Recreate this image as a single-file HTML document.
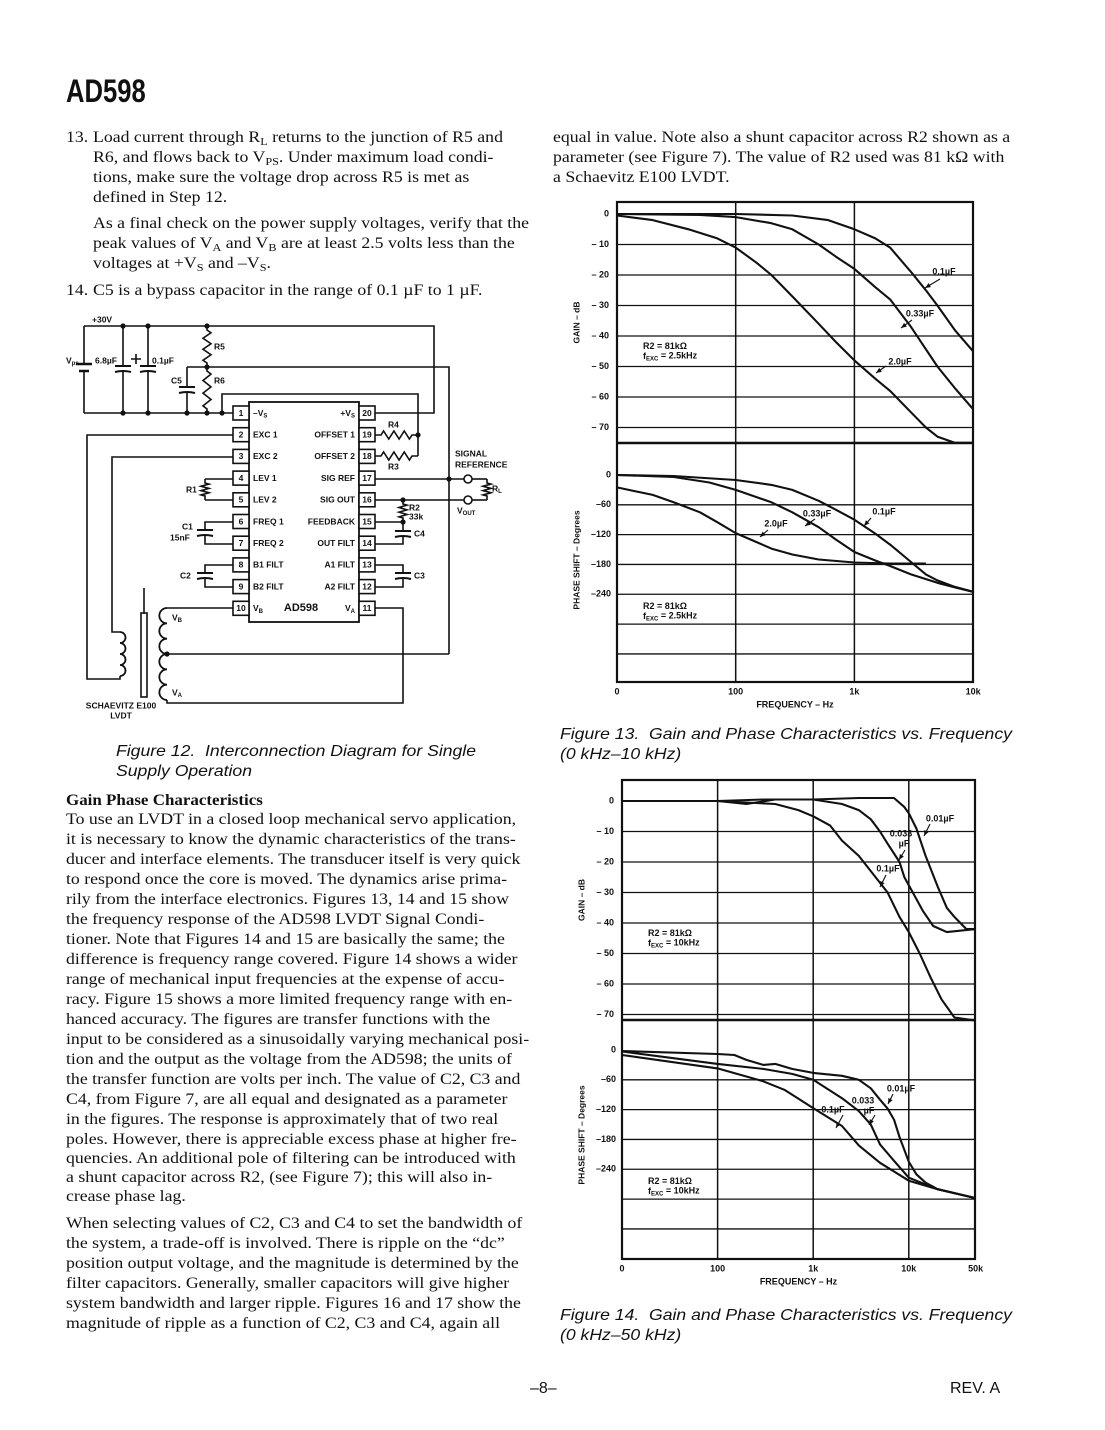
<!DOCTYPE html>
<html><head><meta charset="utf-8">
<style>
html,body{margin:0;padding:0;background:#fff;}
#page{position:relative;width:1105px;height:1430px;overflow:hidden;background:#fff;color:#111;}
.t{position:absolute;white-space:nowrap;font-family:"Liberation Serif",serif;font-size:16px;line-height:20px;transform:scaleX(1.11);transform-origin:left center;}
.t sub{font-size:11px;vertical-align:-3px;line-height:0;}
.cap{position:absolute;white-space:nowrap;font-family:"Liberation Sans",sans-serif;font-style:italic;font-size:16px;line-height:20px;transform:scaleX(1.1);transform-origin:left center;}
svg text{font-family:"Liberation Sans",sans-serif;font-weight:bold;fill:#111;}
</style></head>
<body>
<div id="page">
<div style="position:absolute;left:66px;top:74px;font-family:'Liberation Sans Narrow','Liberation Sans',sans-serif;font-weight:bold;font-size:32px;line-height:34px;transform:scaleX(0.8);transform-origin:left;">AD598</div>

<div>
<div class="t" style="left:66px;top:128px">13.</div>
<div class="t" style="left:93px;top:128px">Load current through R<sub>L</sub> returns to the junction of R5 and</div>
<div class="t" style="left:93px;top:148px">R6, and flows back to V<sub>PS</sub>. Under maximum load condi-</div>
<div class="t" style="left:93px;top:168px">tions, make sure the voltage drop across R5 is met as</div>
<div class="t" style="left:93px;top:188px">defined in Step 12.</div>
<div class="t" style="left:93px;top:214px">As a final check on the power supply voltages, verify that the</div>
<div class="t" style="left:93px;top:234px">peak values of V<sub>A</sub> and V<sub>B</sub> are at least 2.5 volts less than the</div>
<div class="t" style="left:93px;top:254px">voltages at +V<sub>S</sub> and –V<sub>S</sub>.</div>
</div>
<div>
<div class="t" style="left:66px;top:281px">14.</div>
<div class="t" style="left:93px;top:281px">C5 is a bypass capacitor in the range of 0.1 µF to 1 µF.</div>
</div>

<div class="cap" style="left:116px;top:742px">Figure 12.&nbsp; Interconnection Diagram for Single<br>Supply Operation</div>

<div class="t" style="left:66px;top:791px;font-weight:bold;transform:scaleX(1.06)">Gain Phase Characteristics</div>
<div>
<div class="t" style="left:66px;top:810px">To use an LVDT in a closed loop mechanical servo application,</div>
<div class="t" style="left:66px;top:830px">it is necessary to know the dynamic characteristics of the trans-</div>
<div class="t" style="left:66px;top:850px">ducer and interface elements. The transducer itself is very quick</div>
<div class="t" style="left:66px;top:870px">to respond once the core is moved. The dynamics arise prima-</div>
<div class="t" style="left:66px;top:890px">rily from the interface electronics. Figures 13, 14 and 15 show</div>
<div class="t" style="left:66px;top:910px">the frequency response of the AD598 LVDT Signal Condi-</div>
<div class="t" style="left:66px;top:930px">tioner. Note that Figures 14 and 15 are basically the same; the</div>
<div class="t" style="left:66px;top:950px">difference is frequency range covered. Figure 14 shows a wider</div>
<div class="t" style="left:66px;top:970px">range of mechanical input frequencies at the expense of accu-</div>
<div class="t" style="left:66px;top:990px">racy. Figure 15 shows a more limited frequency range with en-</div>
<div class="t" style="left:66px;top:1010px">hanced accuracy. The figures are transfer functions with the</div>
<div class="t" style="left:66px;top:1030px">input to be considered as a sinusoidally varying mechanical posi-</div>
<div class="t" style="left:66px;top:1050px">tion and the output as the voltage from the AD598; the units of</div>
<div class="t" style="left:66px;top:1070px">the transfer function are volts per inch. The value of C2, C3 and</div>
<div class="t" style="left:66px;top:1090px">C4, from Figure 7, are all equal and designated as a parameter</div>
<div class="t" style="left:66px;top:1110px">in the figures. The response is approximately that of two real</div>
<div class="t" style="left:66px;top:1130px">poles. However, there is appreciable excess phase at higher fre-</div>
<div class="t" style="left:66px;top:1149px">quencies. An additional pole of filtering can be introduced with</div>
<div class="t" style="left:66px;top:1168px">a shunt capacitor across R2, (see Figure 7); this will also in-</div>
<div class="t" style="left:66px;top:1187px">crease phase lag.</div>
</div>
<div>
<div class="t" style="left:66px;top:1214px">When selecting values of C2, C3 and C4 to set the bandwidth of</div>
<div class="t" style="left:66px;top:1234px">the system, a trade-off is involved. There is ripple on the “dc”</div>
<div class="t" style="left:66px;top:1254px">position output voltage, and the magnitude is determined by the</div>
<div class="t" style="left:66px;top:1274px">filter capacitors. Generally, smaller capacitors will give higher</div>
<div class="t" style="left:66px;top:1294px">system bandwidth and larger ripple. Figures 16 and 17 show the</div>
<div class="t" style="left:66px;top:1314px">magnitude of ripple as a function of C2, C3 and C4, again all</div>
</div>
<div>
<div class="t" style="left:553px;top:128px">equal in value. Note also a shunt capacitor across R2 shown as a</div>
<div class="t" style="left:553px;top:148px">parameter (see Figure 7). The value of R2 used was 81 kΩ with</div>
<div class="t" style="left:553px;top:168px">a Schaevitz E100 LVDT.</div>
</div>
<div class="cap" style="left:560px;top:725px">Figure 13.&nbsp; Gain and Phase Characteristics vs. Frequency<br>(0 kHz–10 kHz)</div>
<div class="cap" style="left:560px;top:1306px">Figure 14.&nbsp; Gain and Phase Characteristics vs. Frequency<br>(0 kHz–50 kHz)</div>

<div style="position:absolute;left:530px;top:1380px;font-family:'Liberation Sans',sans-serif;font-size:16px;">–8–</div>
<div style="position:absolute;left:950px;top:1380px;font-family:'Liberation Sans',sans-serif;font-size:16px;">REV. A</div>

<svg id="svg" width="1105" height="1430" style="position:absolute;left:0;top:0"></svg>
</div>

<script>
// ===== Figure 13 data (0 kHz – 10 kHz) =====
const f13XTicks = [10, 100, 1000, 10000];
const f13XTickLabels = ["0", "100", "1k", "10k"];
const f13GainTicks = [0, -10, -20, -30, -40, -50, -60, -70];
const f13GainTickLabels = ["0", "– 10", "– 20", "– 30", "– 40", "– 50", "– 60", "– 70"];
const f13PhaseTicks = [0, -60, -120, -180, -240];
const f13PhaseTickLabels = ["0", "–60", "–120", "–180", "–240"];
const f13Gain01Freq = [10, 100, 300, 600, 1000, 1500, 2000, 3000, 4000, 5000, 7000, 10000];
const f13Gain01 = [0, 0, -0.5, -2, -5, -8, -11, -19, -25, -30, -38, -45];
const f13Gain033Freq = [10, 50, 100, 200, 300, 500, 700, 1000, 1500, 2000, 3000, 5000, 7000, 10000];
const f13Gain033 = [0, -0.3, -1, -3, -5, -10, -14, -18, -24, -28, -37, -50, -57, -64];
const f13Gain2Freq = [10, 20, 40, 70, 100, 150, 200, 300, 500, 700, 1000, 1500, 2000, 3000, 4000, 5000, 7000, 10000];
const f13Gain2 = [-0.5, -2, -5, -8, -11, -16, -20, -27, -36, -42, -48, -54, -58, -65, -70, -73, -75, -75];
const f13Phase01Freq = [10, 30, 100, 200, 300, 500, 700, 1000, 1500, 2000, 3000, 4000, 5000, 7000, 10000];
const f13Phase01 = [0, -2, -10, -20, -30, -52, -70, -90, -118, -140, -175, -200, -212, -225, -235];
const f13Phase033Freq = [10, 30, 60, 100, 200, 300, 500, 700, 1000, 1500, 2000, 3000, 5000, 7000, 10000];
const f13Phase033 = [0, -4, -15, -30, -55, -75, -105, -130, -155, -172, -183, -200, -217, -226, -235];
const f13Phase2Freq = [10, 20, 30, 50, 70, 100, 150, 200, 300, 500, 1000, 2000, 4000];
const f13Phase2 = [-25, -40, -55, -75, -95, -117, -135, -148, -160, -170, -176, -178, -178];

// ===== Figure 14 data (0 kHz – 50 kHz) =====
const f14XTicks = [10, 100, 1000, 10000, 50000];
const f14XTickLabels = ["0", "100", "1k", "10k", "50k"];
const f14GainTicks = [0, -10, -20, -30, -40, -50, -60, -70];
const f14GainTickLabels = ["0", "– 10", "– 20", "– 30", "– 40", "– 50", "– 60", "– 70"];
const f14PhaseTicks = [0, -60, -120, -180, -240];
const f14PhaseTickLabels = ["0", "–60", "–120", "–180", "–240"];
const f14Gain001Freq = [10, 100, 300, 1000, 3000, 7000, 9000, 10000, 12000, 15000, 20000, 25000, 30000, 40000, 50000];
const f14Gain001 = [0, 0, 0.5, 0.5, 1, 1, -2, -4, -9, -18, -28, -35, -38, -42, -42];
const f14Gain0033Freq = [10, 100, 200, 400, 1000, 2000, 3000, 4000, 5000, 6000, 8000, 9000, 11000, 14000, 18000, 25000, 50000];
const f14Gain0033 = [0, 0, -1, 0.5, 0.5, -1, -3, -6, -10, -14, -20, -25, -30, -36, -41, -43, -42];
const f14Gain01Freq = [10, 100, 200, 400, 700, 1000, 1500, 2000, 3000, 4000, 6000, 8000, 10000, 13000, 17000, 22000, 30000, 50000];
const f14Gain01 = [0, 0, -0.5, -1, -3, -5, -8, -13, -18, -23, -30, -38, -43, -50, -58, -65, -71, -72];
const f14Phase001Freq = [10, 100, 150, 200, 300, 400, 600, 1000, 2000, 3000, 4000, 5000, 6000, 7000, 8000, 10000, 12000, 15000, 20000, 50000];
const f14Phase001 = [-2, -8, -10, -20, -30, -28, -38, -46, -52, -60, -77, -100, -118, -140, -175, -225, -250, -267, -280, -298];
const f14Phase0033Freq = [10, 100, 300, 600, 1000, 2000, 3000, 4000, 5000, 7000, 10000, 20000, 50000];
const f14Phase0033 = [-3, -28, -38, -48, -60, -97, -123, -150, -190, -223, -257, -280, -298];
const f14Phase01Freq = [10, 100, 300, 500, 1000, 2000, 3000, 5000, 10000, 20000, 50000];
const f14Phase01 = [-10, -37, -63, -80, -117, -153, -192, -227, -263, -280, -298];

const NS = "http://www.w3.org/2000/svg";
const svg = document.getElementById("svg");
function mk(tag, attrs, parent) {
  const e = document.createElementNS(NS, tag);
  for (const k in attrs) e.setAttribute(k, attrs[k]);
  (parent || svg).appendChild(e);
  return e;
}
function txt(x, y, s, size, anchor, parent) {
  const e = mk("text", {x: x, y: y, "font-size": size, "text-anchor": anchor || "start", "dominant-baseline": "middle"}, parent);
  e.textContent = s;
  return e;
}

// ================= CHARTS =================
function drawChart(c) {
  const g = mk("g", {});
  
  
  const xOf = f => c.x0 + (Math.log10(f) - 1) * c.dec;
  const gY = d => c.g0 - d * 3.05;
  const pY = d => c.p0 - d * 0.497;
  c.gainTicks.forEach((v, i) => {
    if (v !== 0) {
      const l = mk("line", {x1: c.x0, x2: c.x1, y1: gY(v), y2: gY(v), stroke: "#111", "stroke-width": 1.3}, g);
      
      
    }
    const t = txt(c.x0 - 8, gY(v), c.gainLabels[i], 9, "end", g);
    
    
  });
  c.phaseTicks.forEach((v, i) => {
    if (v !== 0) {
      const l = mk("line", {x1: c.x0, x2: c.x1, y1: pY(v), y2: pY(v), stroke: "#111", "stroke-width": 1.3}, g);
      
      
    }
    const t = txt(c.x0 - 6, pY(v), c.phaseLabels[i], 9, "end", g);
    
    
  });
  [-300, -360].forEach(v => {
    const l = mk("line", {x1: c.x0, x2: c.x1, y1: pY(v), y2: pY(v), stroke: "#111", "stroke-width": 1.3}, g);
    
    
  });
  c.xTicks.forEach((f, i) => {
    const x = xOf(f);
    if (i > 0 && i < c.xTicks.length - 1) {
      const l = mk("line", {x1: x, x2: x, y1: c.top, y2: c.bot, stroke: "#111", "stroke-width": 1.5}, g);
      
      
    }
    const t = txt(x, c.bot + 10, c.xLabels[i], 9, "middle", g);
    
    
  });
  const dv = mk("line", {x1: c.x0, x2: c.x1, y1: c.div, y2: c.div, stroke: "#111", "stroke-width": 2.5}, g);
  
  
  const fr = mk("rect", {x: c.x0, y: c.top, width: c.x1 - c.x0, height: c.bot - c.top, fill: "none", stroke: "#111", "stroke-width": 2.2}, g);
  
  
  c.gain.forEach(s => {
    const d = s.f.map((f, i) => (i ? "L" : "M") + xOf(f).toFixed(1) + "," + gY(s.v[i]).toFixed(1)).join("");
    const p = mk("path", {d: d, fill: "none", stroke: "#111", "stroke-width": 2.1, "stroke-linejoin": "round"}, g);
    
    
  });
  c.phase.forEach(s => {
    const d = s.f.map((f, i) => (i ? "L" : "M") + xOf(f).toFixed(1) + "," + pY(s.v[i]).toFixed(1)).join("");
    const p = mk("path", {d: d, fill: "none", stroke: "#111", "stroke-width": 2.1, "stroke-linejoin": "round"}, g);
    
    
  });
  const gt = txt(0, 0, "GAIN – dB", 8.5, "middle", g);
  gt.setAttribute("transform", "translate(" + (c.x0 - 40) + "," + ((c.top + c.div) / 2) + ") rotate(-90)");
  
  
  const pt = txt(0, 0, "PHASE SHIFT – Degrees", 8.5, "middle", g);
  pt.setAttribute("transform", "translate(" + (c.x0 - 40) + "," + (c.p0 + 85) + ") rotate(-90)");
  
  
  const xt = txt((c.x0 + c.x1) / 2, c.bot + 23, "FREQUENCY – Hz", 9, "middle", g);
  
  
  [[gY(-43.5)], [pY(-265)]].forEach((yy, k) => {
    const y = yy[0];
    const n1 = txt(c.x0 + 26, y, "R2 = 81kΩ", 9, "start", g);
    
    
    const n2 = mk("text", {x: c.x0 + 26, y: y + 10, "font-size": 9, "dominant-baseline": "middle"}, g);
    n2.innerHTML = 'f<tspan font-size="6" dy="2">EXC</tspan><tspan dy="-2"> = ' + c.fexc + '</tspan>';
    
    
  });
  c.notes.forEach(n => {
    const t = txt(n[0], n[1], n[2], 9, "middle", g);
    
    
    if (n[3] !== null) {
      const a = mk("line", {x1: n[3], y1: n[4], x2: n[5], y2: n[6], stroke: "#111", "stroke-width": 1.1}, g);
      
      
      const ang = Math.atan2(n[6] - n[4], n[5] - n[3]);
      const hx = n[5], hy = n[6];
      const hd = mk("path", {d: "M" + hx + "," + hy + "L" + (hx - 6 * Math.cos(ang - 0.4)) + "," + (hy - 6 * Math.sin(ang - 0.4)) + "L" + (hx - 6 * Math.cos(ang + 0.4)) + "," + (hy - 6 * Math.sin(ang + 0.4)) + "Z", fill: "#111"}, g);
      
      
    }
  });
}

drawChart({
  name: "figure-13-chart", x0: 617, x1: 973, dec: 118.7, top: 202, bot: 682, div: 443, g0: 214, p0: 475,
  xTicks: f13XTicks, xLabels: f13XTickLabels, gainTicks: f13GainTicks, gainLabels: f13GainTickLabels,
  phaseTicks: f13PhaseTicks, phaseLabels: f13PhaseTickLabels, fexc: "2.5kHz",
  gain: [{name: "gain-0.1uF", f: f13Gain01Freq, v: f13Gain01}, {name: "gain-0.33uF", f: f13Gain033Freq, v: f13Gain033}, {name: "gain-2.0uF", f: f13Gain2Freq, v: f13Gain2}],
  phase: [{name: "phase-0.1uF", f: f13Phase01Freq, v: f13Phase01}, {name: "phase-0.33uF", f: f13Phase033Freq, v: f13Phase033}, {name: "phase-2.0uF", f: f13Phase2Freq, v: f13Phase2}],
  notes: [[944, 272, "0.1µF", 940, 279, 925, 288], [920, 314, "0.33µF", 912, 320, 901, 328], [900, 362, "2.0µF", 886, 366, 876, 373],
          [817, 514, "0.33µF", 815, 519, 805, 526], [884, 512, "0.1µF", 871, 518, 864, 526], [776, 524, "2.0µF", 768, 530, 760, 537]]
});
drawChart({
  name: "figure-14-chart", x0: 622, x1: 975, dec: 95.6, top: 780, bot: 1259, div: 1020, g0: 801, p0: 1050,
  xTicks: f14XTicks, xLabels: f14XTickLabels, gainTicks: f14GainTicks, gainLabels: f14GainTickLabels,
  phaseTicks: f14PhaseTicks, phaseLabels: f14PhaseTickLabels, fexc: "10kHz",
  gain: [{name: "gain-0.01uF", f: f14Gain001Freq, v: f14Gain001}, {name: "gain-0.033uF", f: f14Gain0033Freq, v: f14Gain0033}, {name: "gain-0.1uF", f: f14Gain01Freq, v: f14Gain01}],
  phase: [{name: "phase-0.01uF", f: f14Phase001Freq, v: f14Phase001}, {name: "phase-0.033uF", f: f14Phase0033Freq, v: f14Phase0033}, {name: "phase-0.1uF", f: f14Phase01Freq, v: f14Phase01}],
  notes: [[940, 819, "0.01µF", 930, 824, 924, 836], [901, 834, "0.033", null], [904, 844, "µF", 905, 850, 899, 860], [888, 869, "0.1µF", 886, 875, 880, 887],
          [901, 1089, "0.01µF", 893, 1094, 888, 1104], [863, 1101, "0.033", null], [869, 1111, "µF", 875, 1115, 869, 1125], [833, 1110, "0.1µF", 843, 1115, 836, 1128]]
});

// ================= CIRCUIT (Figure 12) =================
const cg = mk("g", {stroke: "#111", "stroke-width": 1.6, fill: "none"});


function wire(pts, name) {
  const p = mk("polyline", {points: pts.map(q => q.join(",")).join(" ")}, cg);
  
  
}
function dot(x, y) {
  const d = mk("circle", {cx: x, cy: y, r: 2.6, fill: "#111", stroke: "none"}, cg);
  
  
}
function vres(x, y1, y2, name) {
  const n = 6, h = (y2 - y1 - 8) / n;
  let d = "M" + x + "," + y1 + "L" + x + "," + (y1 + 4);
  for (let i = 0; i < n; i++) d += "L" + (x + (i % 2 ? -4 : 4)) + "," + (y1 + 4 + h * (i + 0.5));
  d += "L" + x + "," + (y2 - 4) + "L" + x + "," + y2;
  const p = mk("path", {d: d}, cg);
  
  
}
function hres(y, x1, x2, name) {
  const n = 6, w = (x2 - x1 - 12) / n;
  let d = "M" + x1 + "," + y + "L" + (x1 + 6) + "," + y;
  for (let i = 0; i < n; i++) d += "L" + (x1 + 6 + w * (i + 0.5)) + "," + (y + (i % 2 ? 4 : -4));
  d += "L" + (x2 - 6) + "," + y + "L" + x2 + "," + y;
  const p = mk("path", {d: d}, cg);
  
  
}
function capV(x, y, name) {
  const p = mk("path", {d: "M" + (x - 8) + "," + (y - 3) + "L" + (x + 8) + "," + (y - 3) + "M" + (x - 8) + "," + (y + 3) + "Q" + x + "," + (y + 1) + " " + (x + 8) + "," + (y + 3), "stroke-width": 2}, cg);
  
  
}
function coil(x, y1, y2, n, dir, name) {
  const h = (y2 - y1) / n;
  let d = "M" + x + "," + y1;
  for (let i = 0; i < n; i++) d += "A" + (h / 2) + "," + (h / 2) + " 0 0 " + (dir > 0 ? 1 : 0) + " " + x + "," + (y1 + h * (i + 1));
  const p = mk("path", {d: d, "stroke-width": 1.8}, cg);
  
  
}
function ctext(x, y, s, size, anchor, name) {
  const t = txt(x, y, s, size || 8.5, anchor || "start");
  
  
  return t;
}

wire([[84,326],[434,326],[434,413],[375,413]], 'positive-rail');
wire([[84,413],[233,413]], 'ground-rail');
wire([[84,326],[84,364]], 'vps-wire');
wire([[84,371],[84,413]], 'vps-wire');
const bat = mk("path", {d: "M76,364L92,364M79,371L89,371", "stroke-width": 2.4}, cg);


wire([[123,326],[123,366]], 'cap-6.8uF-wire'); wire([[123,372],[123,413]], 'cap-6.8uF-wire');
capV(123, 369, 'cap-6.8uF');
wire([[148,326],[148,366]], 'cap-0.1uF-wire'); wire([[148,372],[148,413]], 'cap-0.1uF-wire');
capV(148, 369, 'cap-0.1uF');
const plus = mk("path", {d: "M131,359L141,359M136,354L136,364", "stroke-width": 1.6}, cg);


vres(207, 326, 367, 'resistor-r5');
vres(207, 367, 413, 'resistor-r6');
wire([[187,367],[449,367],[449,654]], 'r5-r6-junction-wire');
wire([[187,367],[187,387]], 'c5-wire'); wire([[187,393],[187,413]], 'c5-wire');
capV(187, 390, 'capacitor-c5');
wire([[222,413],[222,394],[418,394],[418,456]], 'offset-return-wire');
[[123,326],[148,326],[207,326],[123,413],[148,413],[187,413],[207,413],[222,413],[207,367],[418,435],[449,479],[403,500],[403,522],[167,654]].forEach(p => dot(p[0], p[1]));
hres(435, 375, 418, 'resistor-r4');
hres(456, 375, 418, 'resistor-r3');
wire([[375,479],[464,479]], 'sig-ref-wire');
wire([[375,500],[464,500]], 'sig-out-wire');
const t1 = mk("circle", {cx: 468, cy: 479, r: 4, fill: "#fff"}, cg);


const t2 = mk("circle", {cx: 468, cy: 500, r: 4, fill: "#fff"}, cg);


wire([[472,479],[487,479]], 'rl-wire'); wire([[472,500],[487,500]], 'rl-wire');
vres(487, 479, 500, 'load-resistor-rl');
vres(403, 500, 522, 'resistor-r2');
wire([[375,522],[403,522],[403,531]], 'feedback-wire');
capV(403, 534, 'capacitor-c4');
wire([[403,537],[403,544],[375,544]], 'out-filt-wire');
wire([[375,565],[403,565],[403,573]], 'a1-filt-wire');
capV(403, 576, 'capacitor-c3');
wire([[403,579],[403,587],[375,587]], 'a2-filt-wire');
wire([[233,479],[205,479]], 'lev1-wire'); wire([[205,500],[233,500]], 'lev2-wire');
vres(205, 479, 500, 'resistor-r1');
wire([[233,522],[205,522],[205,530]], 'freq1-wire');
capV(205, 533, 'capacitor-c1');
wire([[205,536],[205,544],[233,544]], 'freq2-wire');
wire([[233,565],[205,565],[205,573]], 'b1-filt-wire');
capV(205, 576, 'capacitor-c2');
wire([[205,579],[205,587],[233,587]], 'b2-filt-wire');
wire([[233,435],[87,435],[87,679],[120,679],[120,676]], 'exc1-wire');
wire([[233,457],[112,457],[112,632],[120,632]], 'exc2-wire');
coil(120, 632, 676, 4, 1, 'lvdt-primary-coil');
const core = mk("rect", {x: 141, y: 613, width: 6, height: 84, "stroke-width": 1.6}, cg);


wire([[144,588],[144,613]], 'lvdt-core-rod');
wire([[233,608],[167,608]], 'vb-wire');
coil(167, 608, 654, 3, 0, 'lvdt-secondary-b');
coil(167, 654, 700, 3, 0, 'lvdt-secondary-a');
wire([[167,654],[449,654]], 'center-tap-wire');
wire([[167,700],[167,703],[403,703],[403,608],[375,608]], 'va-wire');
const ic = mk("rect", {x: 249, y: 402, width: 110, height: 220, "stroke-width": 1.8}, cg);


const leftNames = ["–V", "EXC 1", "EXC 2", "LEV 1", "LEV 2", "FREQ 1", "FREQ 2", "B1 FILT", "B2 FILT", "V"];
const rightNames = ["+V", "OFFSET 1", "OFFSET 2", "SIG REF", "SIG OUT", "FEEDBACK", "OUT FILT", "A1 FILT", "A2 FILT", "V"];
for (let i = 0; i < 10; i++) {
  const y = 413 + i * 21.7;
  const lb = mk("rect", {x: 233, y: y - 7, width: 16, height: 14, "stroke-width": 1.6, fill: "#fff"}, cg);
  
  
  const rb = mk("rect", {x: 359, y: y - 7, width: 16, height: 14, "stroke-width": 1.6, fill: "#fff"}, cg);
  
  
  ctext(241, y + 0.5, String(i + 1), 8.5, "middle", 'pin-number');
  ctext(367, y + 0.5, String(20 - i), 8.5, "middle", 'pin-number');
  const ln = ctext(253, y + 0.5, leftNames[i], 8.5, "start", 'pin-name');
  const rn = ctext(355, y + 0.5, rightNames[i], 8.5, "end", 'pin-name');
  if (i === 0) { ln.innerHTML = '–V<tspan font-size="6" dy="2">S</tspan>'; rn.innerHTML = '+V<tspan font-size="6" dy="2">S</tspan>'; }
  if (i === 9) { ln.innerHTML = 'V<tspan font-size="6" dy="2">B</tspan>'; rn.innerHTML = 'V<tspan font-size="6" dy="2">A</tspan>'; }
}
ctext(301, 608, "AD598", 11, "middle", 'chip-label');
ctext(92, 320, "+30V", 8.5, "start", 'supply-label');
const vps = ctext(66, 361, "", 8.5, "start", 'vps-label');
vps.innerHTML = 'V<tspan font-size="6" dy="2">ps</tspan>';
ctext(95, 361, "6.8µF", 8.5, "start", 'cap-6.8uF-label');
ctext(152, 361, "0.1µF", 8.5, "start", 'cap-0.1uF-label');
ctext(214, 347, "R5", 8.5, "start", 'r5-label');
ctext(214, 381, "R6", 8.5, "start", 'r6-label');
ctext(171, 381, "C5", 8.5, "start", 'c5-label');
ctext(388, 425, "R4", 8.5, "start", 'r4-label');
ctext(388, 467, "R3", 8.5, "start", 'r3-label');
ctext(455, 454, "SIGNAL", 8.5, "start", 'signal-reference-label');
ctext(455, 465, "REFERENCE", 8.5, "start", 'signal-reference-label');
const rl = ctext(492, 489, "", 8.5, "start", 'rl-label');
rl.innerHTML = 'R<tspan font-size="6" dy="2">L</tspan>';
const vo = ctext(457, 511, "", 8.5, "start", 'vout-label');
vo.innerHTML = 'V<tspan font-size="6" dy="2">OUT</tspan>';
ctext(409, 508, "R2", 8.5, "start", 'r2-label');
ctext(409, 517, "33k", 8.5, "start", 'r2-value');
ctext(414, 534, "C4", 8.5, "start", 'c4-label');
ctext(414, 576, "C3", 8.5, "start", 'c3-label');
ctext(186, 490, "R1", 8.5, "start", 'r1-label');
ctext(182, 527, "C1", 8.5, "start", 'c1-label');
ctext(170, 538, "15nF", 8.5, "start", 'c1-value');
ctext(180, 576, "C2", 8.5, "start", 'c2-label');
const vbl = ctext(172, 618, "", 8.5, "start", 'vb-label');
vbl.innerHTML = 'V<tspan font-size="6" dy="2">B</tspan>';
const val = ctext(172, 693, "", 8.5, "start", 'va-label');
val.innerHTML = 'V<tspan font-size="6" dy="2">A</tspan>';
ctext(121, 706, "SCHAEVITZ E100", 8.5, "middle", 'lvdt-label');
ctext(121, 716, "LVDT", 8.5, "middle", 'lvdt-label');
</script>
</body></html>
